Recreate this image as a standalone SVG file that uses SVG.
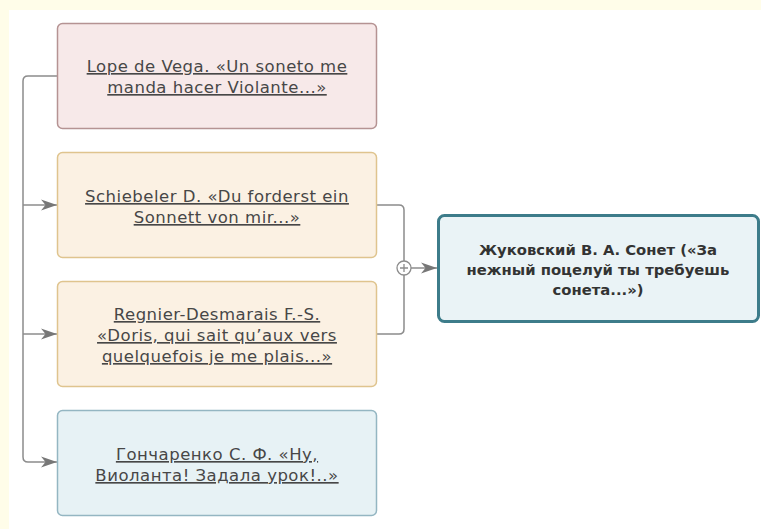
<svg xmlns="http://www.w3.org/2000/svg" width="761" height="529" viewBox="0 0 761 529">
<defs>
<style>
.bg{fill:#fffde9}
.box{stroke-width:1.5}
.pink{fill:#f7e9e9;stroke:#b59393}
.beige{fill:#fbf1e3;stroke:#dfc48e}
.blue{fill:#e7f2f5;stroke:#94b6c2}
.target{fill:#eaf3f6;stroke:#3d7c8a;stroke-width:3}
.t{font-family:"DejaVu Sans","Liberation Sans",sans-serif;font-size:16.5px;letter-spacing:0.5px;fill:#474747;text-anchor:middle;text-decoration:underline}
.tb{font-family:"DejaVu Sans","Liberation Sans",sans-serif;font-size:14.8px;font-weight:bold;fill:#333;text-anchor:middle}
.c{fill:none;stroke:#8c8c8c;stroke-width:1.5}
</style>
<marker id="arr" markerUnits="userSpaceOnUse" markerWidth="18" markerHeight="14" refX="16" refY="7" orient="auto">
<path d="M0,1.5 L16,7 L0,12.5 L4.5,7 z" fill="#777777"/>
</marker>
</defs>
<rect x="0" y="0" width="761" height="529" fill="#ffffff"/>
<rect class="bg" x="0" y="0" width="761" height="10"/>
<rect class="bg" x="0" y="0" width="9" height="529"/>
<g id="connectors">
<path class="c" d="M57,76 H28 Q23,76 23,81 V457 Q23,462 28,462 H57" marker-end="url(#arr)"/>
<path class="c" d="M23,205 H57" marker-end="url(#arr)"/>
<path class="c" d="M23,334 H57" marker-end="url(#arr)"/>
<path class="c" d="M377,205 H399 Q404,205 404,210 V261"/>
<path class="c" d="M404,275 V329 Q404,334 399,334 H377"/>
<circle cx="404" cy="268" r="7" fill="#ffffff" stroke="#8c8c8c" stroke-width="1.3"/>
<path d="M400,268 H408 M404,264 V272" stroke="#8c8c8c" stroke-width="1.3"/>
<path class="c" d="M411,268 H437" marker-end="url(#arr)"/>
</g>
<g id="node-lope">
<rect class="box pink" x="57.5" y="23.5" width="319" height="105" rx="5"/>
<text class="t" x="217" y="72">Lope de Vega. «Un soneto me</text>
<text class="t" x="217" y="93">manda hacer Violante...»</text>
</g>
<g id="node-schiebeler">
<rect class="box beige" x="57.5" y="152.5" width="319" height="105" rx="5"/>
<text class="t" x="217" y="202">Schiebeler D. «Du forderst ein</text>
<text class="t" x="217" y="223">Sonnett von mir...»</text>
</g>
<g id="node-regnier">
<rect class="box beige" x="57.5" y="281.5" width="319" height="105" rx="5"/>
<text class="t" x="217" y="320">Regnier-Desmarais F.-S.</text>
<text class="t" x="217" y="341">«Doris, qui sait qu’aux vers</text>
<text class="t" x="217" y="362">quelquefois je me plais...»</text>
</g>
<g id="node-goncharenko">
<rect class="box blue" x="57.5" y="410.5" width="319" height="105" rx="5"/>
<text class="t" x="217" y="460">Гончаренко С. Ф. «Ну,</text>
<text class="t" x="217" y="481">Виоланта! Задала урок!..»</text>
</g>
<g id="node-zhukovsky">
<rect class="target" x="438.5" y="215.5" width="320" height="106" rx="6"/>
<text class="tb" x="598" y="255">Жуковский В. А. Сонет («За</text>
<text class="tb" x="598" y="275">нежный поцелуй ты требуешь</text>
<text class="tb" x="598" y="295">сонета...»)</text>
</g>
</svg>
